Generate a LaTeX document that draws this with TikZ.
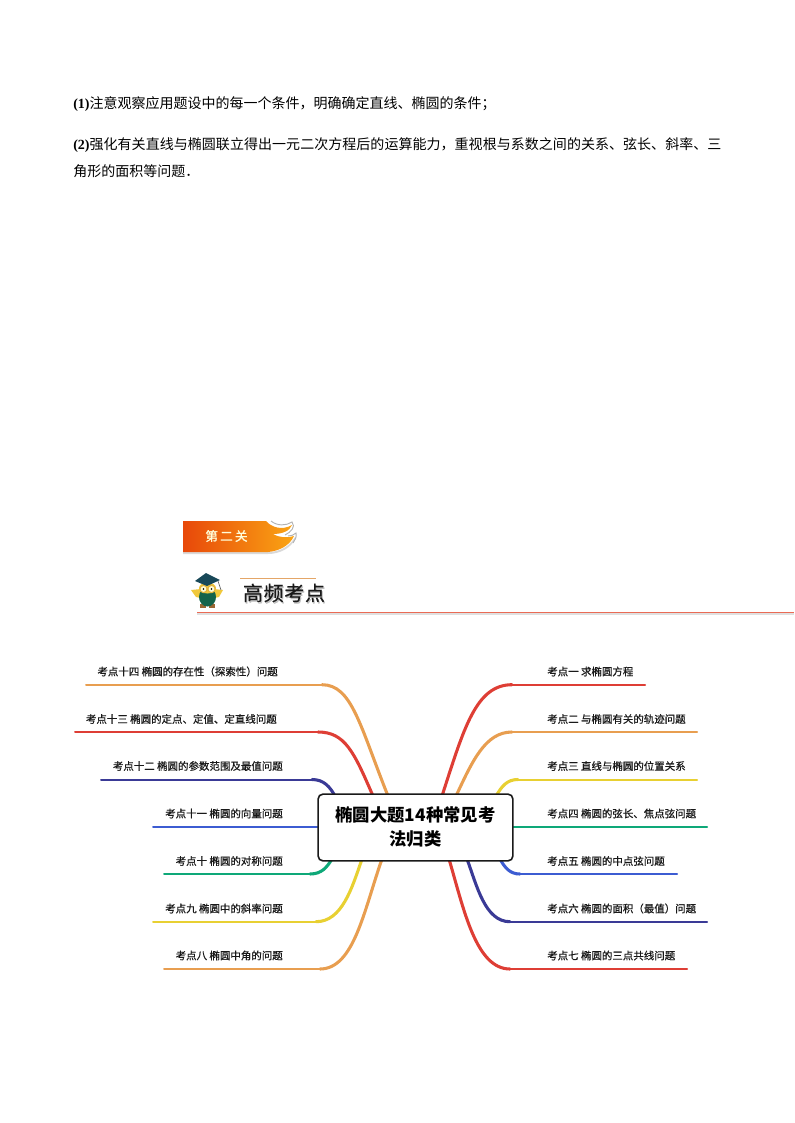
\documentclass[tikz,border=0pt]{standalone}
\usepackage{fontspec}
\usepackage{xcolor}
\usetikzlibrary{positioning,backgrounds}
\newfontfamily\cjk{Noto Sans CJK SC}
\newfontfamily\latinb{Liberation Serif}
\XeTeXlinebreaklocale "zh"
\XeTeXlinebreakskip=0pt plus 1pt
\definecolor{branchred}{RGB}{222,62,53}
\definecolor{branchorange}{RGB}{232,158,80}
\definecolor{branchyellow}{RGB}{232,208,50}
\definecolor{branchgreen}{RGB}{14,168,120}
\definecolor{branchblue}{RGB}{60,92,210}
\definecolor{branchnavy}{RGB}{58,58,150}
\definecolor{hatteal}{RGB}{24,72,88}
\definecolor{owlyellow}{RGB}{240,200,60}
\definecolor{bannerleft}{RGB}{232,72,10}
\definecolor{bannerright}{RGB}{250,165,20}
\tikzset{
	bodytext/.style={inner sep=0pt, font=\fontsize{10.5pt}{20.25pt}\selectfont\cjk},
	leaf/.style={inner sep=0pt, font=\fontsize{7.85pt}{9pt}\selectfont\cjk\addfontfeatures{FakeBold=0.6}, text=black!90},
	rootbox/.style={draw=black!90, line width=1.2pt, rounded corners=3.5pt, fill=white, minimum width=146pt, minimum height=50pt, inner sep=3pt, align=center, font=\fontsize{13pt}{18pt}\selectfont\cjk\bfseries},
	twig/.style={line width=1.5pt, line cap=round},
	limb/.style={line width=2.3pt, line cap=round}
}
\begin{document}
\begin{tikzpicture}[x=0.75pt,y=-0.75pt]
	\useasboundingbox (0,0) rectangle (794,1123);

	% Text at the top of the page
	\node[bodytext, anchor=west] (note1) at (73,104) {{\latinb\bfseries (1)}注意观察应用题设中的每一个条件，明确确定直线、椭圆的条件；};
	\node[bodytext, anchor=north west, text width=486.75pt] (note2) at (73,137) {{\latinb\bfseries (2)}强化有关直线与椭圆联立得出一元二次方程后的运算能力，重视根与系数之间的关系、弦长、斜率、三角形的面积等问题．};

	% Banner
	\fill[black!15] (183,552) -- (268,552) .. controls (280,552) and (290,546) .. (295,537) -- (296,538) .. controls (291,548) and (280,554) .. (268,554) -- (183,554) -- cycle;
	\shade[left color=bannerleft, right color=bannerright] (183,521) -- (266,521) .. controls (271,527) and (282,531) .. (292,525) .. controls (290,531) and (282,534) .. (273,534) .. controls (280,538) and (288,538) .. (294,536) .. controls (290,545) and (280,551) .. (268,552) -- (183,552) -- cycle;
	\draw[black!30, line width=0.7pt] (271,521) .. controls (277,526) and (286,526) .. (292,522) .. controls (296,527) and (291,532) .. (285,535);
	\draw[black!30, line width=0.7pt] (288,536) .. controls (291,536) and (294,535) .. (296,533) .. controls (297,537) and (295,540) .. (293,543);
	\node[inner sep=0pt, text=yellow!15!white, font=\fontsize{9.5pt}{10pt}\selectfont\cjk\addfontfeatures{FakeBold=1}] (bannertext) at (226.5,536) {第\,二\,关};

	% Heading with the owl
	\draw[brown!60!orange!70, line width=0.6pt] (240,578) -- (316,578);
	\draw[black!12, line width=1.4pt] (197,614) -- (794,614);
	\draw[red!55!brown!75, line width=0.7pt] (197,612) -- (794,612);
	\node[inner sep=0pt, text=black!25, font=\fontsize{15pt}{16pt}\selectfont\cjk\addfontfeatures{FakeBold=0.6}] (headshadow) at (285,594.5) {高\kern0.5pt 频\kern0.5pt 考\kern0.5pt 点};
	\node[inner sep=0pt, text=black!90, font=\fontsize{15pt}{16pt}\selectfont\cjk\addfontfeatures{FakeBold=0.6}] (headtext) at (284,593) {高\kern0.5pt 频\kern0.5pt 考\kern0.5pt 点};
	\fill[owlyellow] (191,590) -- (201,589) -- (201,598) -- (196,597) -- cycle;
	\fill[owlyellow] (223,590) -- (214,589) -- (214,598) -- (219,597) -- cycle;
	\fill[brown!80!black] (200,604) rectangle (206,608);
	\fill[brown!80!black] (209,604) rectangle (215,608);
	\fill[hatteal!85!green] (207.5,597) ellipse (8.5 and 9.5);
	\fill[owlyellow] (207.5,588) ellipse (8.5 and 5.5);
	\draw[owlyellow!70!brown, line width=0.8pt, fill=white!85!yellow] (203.5,589) circle (3.6) (211.5,589) circle (3.6);
	\fill[black] (203.5,589) circle (0.9) (211.5,589) circle (0.9);
	\fill[hatteal] (195,581) -- (206,573) -- (220,580) -- (207,586) -- cycle;
	\draw[black!60, line width=0.5pt] (218,581) -- (221,590);
	\fill[owlyellow] (221,591) circle (1.2);

	% Central box
	\node[rootbox] (root) at (415.5,827.5) {椭圆大题14种常见考\\法归类};

	% Labels on the left
	\node[leaf, anchor=east] (leaf14) at (278,671.5) {考点十四 椭圆的存在性（探索性）问题};
	\node[leaf, anchor=east] (leaf13) at (277,719) {考点十三 椭圆的定点、定值、定直线问题};
	\node[leaf, anchor=east] (leaf12) at (283,766) {考点十二 椭圆的参数范围及最值问题};
	\node[leaf, anchor=east] (leaf11) at (283,813.5) {考点十一 椭圆的向量问题};
	\node[leaf, anchor=east] (leaf10) at (283,861) {考点十 椭圆的对称问题};
	\node[leaf, anchor=east] (leaf9) at (283,908.5) {考点九 椭圆中的斜率问题};
	\node[leaf, anchor=east] (leaf8) at (283,955.5) {考点八 椭圆中角的问题};

	% Labels on the right
	\node[leaf, anchor=west] (leaf1) at (547,671.5) {考点一 求椭圆方程};
	\node[leaf, anchor=west] (leaf2) at (547,719) {考点二 与椭圆有关的轨迹问题};
	\node[leaf, anchor=west] (leaf3) at (547,766) {考点三 直线与椭圆的位置关系};
	\node[leaf, anchor=west] (leaf4) at (547,813.5) {考点四 椭圆的弦长、焦点弦问题};
	\node[leaf, anchor=west] (leaf5) at (547,861) {考点五 椭圆的中点弦问题};
	\node[leaf, anchor=west] (leaf6) at (547,908.5) {考点六 椭圆的面积（最值）问题};
	\node[leaf, anchor=west] (leaf7) at (547,955.5) {考点七 椭圆的三点共线问题};

	% Free ends of the branches
	\coordinate (end14) at (86,684.7);
	\coordinate (end13) at (75,732);
	\coordinate (end12) at (101,779.5);
	\coordinate (end11) at (153,827);
	\coordinate (end10) at (164,874);
	\coordinate (end9) at (153,921.7);
	\coordinate (end8) at (164,969);
	\coordinate (end1) at (645,684.7);
	\coordinate (end2) at (697,732);
	\coordinate (end3) at (697,779.5);
	\coordinate (end4) at (707,827);
	\coordinate (end5) at (677,874);
	\coordinate (end6) at (707,921.7);
	\coordinate (end7) at (687,969);

	% Where the branches meet the box
	\coordinate (joint14) at (388,796);
	\coordinate (joint13) at (373,796);
	\coordinate (joint12) at (335,796);
	\coordinate (joint10) at (332,859);
	\coordinate (joint9) at (362,859);
	\coordinate (joint8) at (382,859);
	\coordinate (joint1) at (442,796);
	\coordinate (joint2) at (456,796);
	\coordinate (joint3) at (496,796);
	\coordinate (joint5) at (500,859);
	\coordinate (joint6) at (467,859);
	\coordinate (joint7) at (449,859);

	% Branches, behind the box
	\begin{scope}[on background layer]
		\draw[twig, branchorange] (end14) -- (322,684.7);
		\draw[limb, branchorange] (322,684.7) .. controls (352,684.7) and (360,726) .. (joint14);
		\draw[twig, branchred] (end13) -- (318,732);
		\draw[limb, branchred] (318,732) .. controls (345,732) and (354,752) .. (joint13);
		\draw[twig, branchnavy] (end12) -- (312,779.5);
		\draw[limb, branchnavy] (312,779.5) .. controls (324,779.5) and (330,787) .. (joint12);
		\draw[twig, branchblue] (end11) -- (end11 -| root.west);
		\draw[twig, branchgreen] (end10) -- (310,874);
		\draw[limb, branchgreen] (310,874) .. controls (322,874) and (327,867) .. (joint10);
		\draw[twig, branchyellow] (end9) -- (316,921.7);
		\draw[limb, branchyellow] (316,921.7) .. controls (342,921.7) and (352,888) .. (joint9);
		\draw[twig, branchorange] (end8) -- (320,969);
		\draw[limb, branchorange] (320,969) .. controls (354,969) and (364,910) .. (joint8);
		\draw[twig, branchred] (end1) -- (512,684.7);
		\draw[limb, branchred] (512,684.7) .. controls (476,684.7) and (464,728) .. (joint1);
		\draw[twig, branchorange] (end2) -- (512,732);
		\draw[limb, branchorange] (512,732) .. controls (485,732) and (472,762) .. (joint2);
		\draw[twig, branchyellow] (end3) -- (518,779.5);
		\draw[limb, branchyellow] (518,779.5) .. controls (507,779.5) and (502,786) .. (joint3);
		\draw[twig, branchgreen] (end4) -- (end4 -| root.east);
		\draw[twig, branchblue] (end5) -- (520,874);
		\draw[limb, branchblue] (520,874) .. controls (510,874) and (505,868) .. (joint5);
		\draw[twig, branchnavy] (end6) -- (510,921.7);
		\draw[limb, branchnavy] (510,921.7) .. controls (485,921.7) and (477,886) .. (joint6);
		\draw[twig, branchred] (end7) -- (510,969);
		\draw[limb, branchred] (510,969) .. controls (476,969) and (464,910) .. (joint7);
	\end{scope}
\end{tikzpicture}
\end{document}
